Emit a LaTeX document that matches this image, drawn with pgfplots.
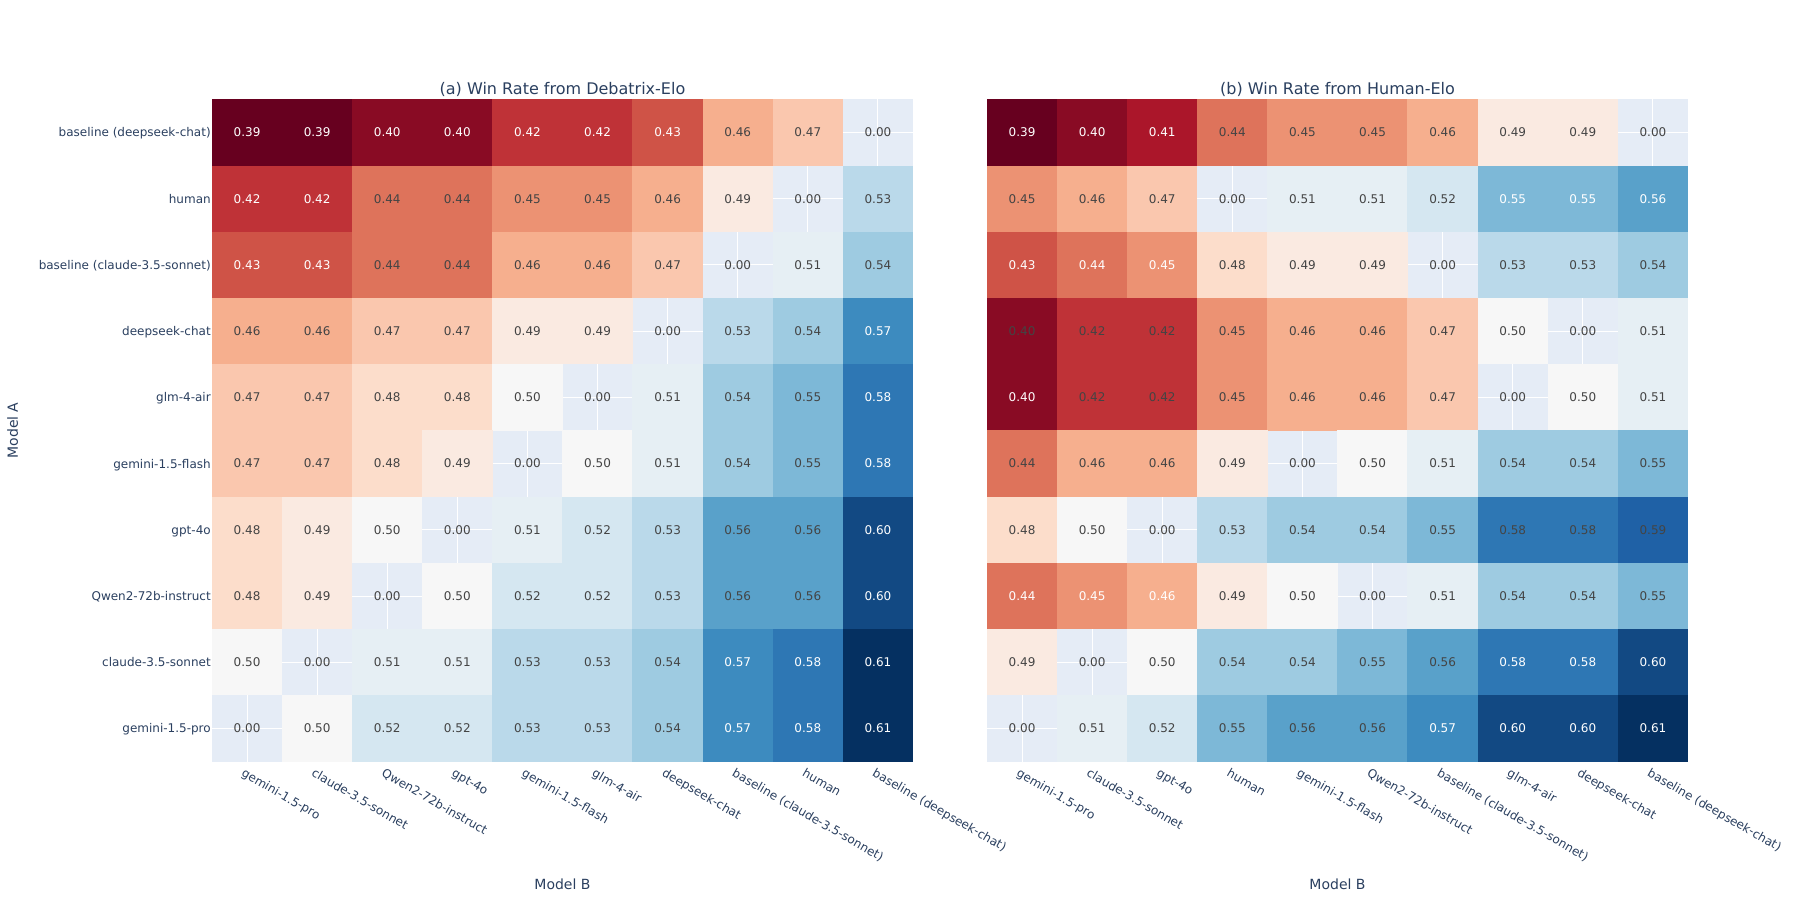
\documentclass[border=0pt]{standalone}
\usepackage{pgfplots}
\pgfplotsset{compat=1.18}
\usepackage{pgfplotstable}
\usepackage{fontspec}
\setmainfont{DejaVu Sans}

\definecolor{ink}{HTML}{2A3F5F}
\definecolor{plotbg}{HTML}{E5ECF6}
\definecolor{darktext}{HTML}{444444}

\newlength\px
\setlength\px{0.75pt}

% one heatmap cell, 70.1 x 66.2 px
\pgfdeclareplotmark{cell}{%
  \pgfpathrectanglecorners{\pgfqpoint{-26.4pt}{-24.9pt}}{\pgfqpoint{26.4pt}{24.9pt}}%
  \pgfusepathqfill}

\pgfplotsset{
  colormap={rdbu}{rgb255=(103,0,31) rgb255=(178,24,43) rgb255=(214,96,77)
    rgb255=(244,165,130) rgb255=(253,219,199) rgb255=(247,247,247)
    rgb255=(209,229,240) rgb255=(146,197,222) rgb255=(67,147,195)
    rgb255=(33,102,172) rgb255=(5,48,97)},
  heat/.style={
    anchor=south west, scale only axis,
    width=701\px, height=662\px,
    xmin=-0.5, xmax=9.5, ymin=-0.5, ymax=9.5, y dir=reverse,
    xtick={0,...,9}, ytick={0,...,9},
    major tick length=0pt,
    axis line style={draw=none},
    axis background/.style={fill=plotbg},
    grid=major, major grid style={white, line width=1\px},
    point meta min=0.39, point meta max=0.61,
    xticklabel style={inner sep=0pt, anchor=base west, xshift=-6.5\px, yshift=-14\px,
      rotate=-30, font=\fontsize{9pt}{11pt}\selectfont, text=ink},
    yticklabel style={inner sep=0pt, anchor=base east, xshift=-1\px, yshift=-4.4\px,
      font=\fontsize{9pt}{11pt}\selectfont, text=ink},
    every axis title/.style={at={(0.5,1)}, anchor=base, yshift=5\px,
      inner sep=0pt, font=\fontsize{12pt}{14pt}\selectfont, text=ink},
    every axis x label/.style={at={(axis description cs:0.5,0)}, anchor=base,
      yshift=-127.5\px, inner sep=0pt, font=\fontsize{10.5pt}{12pt}\selectfont, text=ink},
    every axis y label/.style={at={(axis description cs:0,0.5)}, anchor=base,
      xshift=-194\px, rotate=90, inner sep=0pt,
      font=\fontsize{10.5pt}{12pt}\selectfont, text=ink},
  },
  cells/.style={scatter, only marks, mark=cell, point meta=explicit,
    scatter/use mapped color={draw=none, fill=mapped color},
    restrict expr to domain={\thisrow{z}}{0.1:1}},
  % w = 1: white label, w = 0: dark label
  labels/.style 2 args={only marks, mark=*, mark size=0pt,
    mark options={draw=none, fill=none},
    point meta=explicit symbolic, nodes near coords,
    restrict expr to domain={\thisrow{w}}{#1},
    nodes near coords style={anchor=center, inner sep=0pt,
      font=\fontsize{9pt}{11pt}\selectfont, text=#2}},
}

% (a) Debatrix-Elo: x = Model B column, y = Model A row (0 = top)
\pgfplotstableread{
x y z w
0 0 0.39 1
1 0 0.39 1
2 0 0.40 1
3 0 0.40 1
4 0 0.42 1
5 0 0.42 1
6 0 0.43 1
7 0 0.46 0
8 0 0.47 0
9 0 0.00 0
0 1 0.42 1
1 1 0.42 1
2 1 0.44 0
3 1 0.44 0
4 1 0.45 0
5 1 0.45 0
6 1 0.46 0
7 1 0.49 0
8 1 0.00 0
9 1 0.53 0
0 2 0.43 1
1 2 0.43 1
2 2 0.44 0
3 2 0.44 0
4 2 0.46 0
5 2 0.46 0
6 2 0.47 0
7 2 0.00 0
8 2 0.51 0
9 2 0.54 0
0 3 0.46 0
1 3 0.46 0
2 3 0.47 0
3 3 0.47 0
4 3 0.49 0
5 3 0.49 0
6 3 0.00 0
7 3 0.53 0
8 3 0.54 0
9 3 0.57 1
0 4 0.47 0
1 4 0.47 0
2 4 0.48 0
3 4 0.48 0
4 4 0.50 0
5 4 0.00 0
6 4 0.51 0
7 4 0.54 0
8 4 0.55 0
9 4 0.58 1
0 5 0.47 0
1 5 0.47 0
2 5 0.48 0
3 5 0.49 0
4 5 0.00 0
5 5 0.50 0
6 5 0.51 0
7 5 0.54 0
8 5 0.55 0
9 5 0.58 1
0 6 0.48 0
1 6 0.49 0
2 6 0.50 0
3 6 0.00 0
4 6 0.51 0
5 6 0.52 0
6 6 0.53 0
7 6 0.56 0
8 6 0.56 0
9 6 0.60 1
0 7 0.48 0
1 7 0.49 0
2 7 0.00 0
3 7 0.50 0
4 7 0.52 0
5 7 0.52 0
6 7 0.53 0
7 7 0.56 0
8 7 0.56 0
9 7 0.60 1
0 8 0.50 0
1 8 0.00 0
2 8 0.51 0
3 8 0.51 0
4 8 0.53 0
5 8 0.53 0
6 8 0.54 0
7 8 0.57 1
8 8 0.58 1
9 8 0.61 1
0 9 0.00 0
1 9 0.50 0
2 9 0.52 0
3 9 0.52 0
4 9 0.53 0
5 9 0.53 0
6 9 0.54 0
7 9 0.57 1
8 9 0.58 1
9 9 0.61 1
}\debatrix

% (b) Human-Elo
\pgfplotstableread{
x y z w
0 0 0.39 1
1 0 0.40 1
2 0 0.41 1
3 0 0.44 0
4 0 0.45 0
5 0 0.45 0
6 0 0.46 0
7 0 0.49 0
8 0 0.49 0
9 0 0.00 0
0 1 0.45 0
1 1 0.46 0
2 1 0.47 0
3 1 0.00 0
4 1 0.51 0
5 1 0.51 0
6 1 0.52 0
7 1 0.55 1
8 1 0.55 1
9 1 0.56 1
0 2 0.43 1
1 2 0.44 1
2 2 0.45 1
3 2 0.48 0
4 2 0.49 0
5 2 0.49 0
6 2 0.00 0
7 2 0.53 0
8 2 0.53 0
9 2 0.54 0
0 3 0.40 0
1 3 0.42 0
2 3 0.42 0
3 3 0.45 0
4 3 0.46 0
5 3 0.46 0
6 3 0.47 0
7 3 0.50 0
8 3 0.00 0
9 3 0.51 0
0 4 0.40 1
1 4 0.42 0
2 4 0.42 0
3 4 0.45 0
4 4 0.46 0
5 4 0.46 0
6 4 0.47 0
7 4 0.00 0
8 4 0.50 0
9 4 0.51 0
0 5 0.44 0
1 5 0.46 0
2 5 0.46 0
3 5 0.49 0
4 5 0.00 0
5 5 0.50 0
6 5 0.51 0
7 5 0.54 0
8 5 0.54 0
9 5 0.55 0
0 6 0.48 0
1 6 0.50 0
2 6 0.00 0
3 6 0.53 0
4 6 0.54 0
5 6 0.54 0
6 6 0.55 0
7 6 0.58 0
8 6 0.58 0
9 6 0.59 0
0 7 0.44 1
1 7 0.45 1
2 7 0.46 1
3 7 0.49 0
4 7 0.50 0
5 7 0.00 0
6 7 0.51 0
7 7 0.54 0
8 7 0.54 0
9 7 0.55 0
0 8 0.49 0
1 8 0.00 0
2 8 0.50 0
3 8 0.54 0
4 8 0.54 0
5 8 0.55 0
6 8 0.56 0
7 8 0.58 1
8 8 0.58 1
9 8 0.60 1
0 9 0.00 0
1 9 0.51 0
2 9 0.52 0
3 9 0.55 0
4 9 0.56 0
5 9 0.56 0
6 9 0.57 1
7 9 0.60 1
8 9 0.60 1
9 9 0.61 1
}\human

\begin{document}
\begin{tikzpicture}
\useasboundingbox (0,0) rectangle (1800\px,900\px);

\begin{axis}[heat, at={(212\px,138.5\px)},
  title={(a) Win Rate from Debatrix-Elo},
  xlabel={Model B}, ylabel={Model A},
  xticklabels={gemini-1.5-pro, claude-3.5-sonnet, Qwen2-72b-instruct, gpt-4o,
    gemini-1.5-flash, glm-4-air, deepseek-chat, baseline (claude-3.5-sonnet),
    human, baseline (deepseek-chat)},
  yticklabels={baseline (deepseek-chat), human, baseline (claude-3.5-sonnet),
    deepseek-chat, glm-4-air, gemini-1.5-flash, gpt-4o, Qwen2-72b-instruct,
    claude-3.5-sonnet, gemini-1.5-pro},
]
\addplot[cells] table[x=x, y=y, meta=z] {\debatrix};
\addplot[labels={0.5:1.5}{white}] table[x=x, y=y, meta=z] {\debatrix};
\addplot[labels={-0.5:0.5}{darktext}] table[x=x, y=y, meta=z] {\debatrix};
\end{axis}

\begin{axis}[heat, at={(987\px,138.5\px)},
  title={(b) Win Rate from Human-Elo},
  xlabel={Model B},
  xticklabels={gemini-1.5-pro, claude-3.5-sonnet, gpt-4o, human,
    gemini-1.5-flash, Qwen2-72b-instruct, baseline (claude-3.5-sonnet),
    glm-4-air, deepseek-chat, baseline (deepseek-chat)},
  yticklabels=\empty,
]
\addplot[cells] table[x=x, y=y, meta=z] {\human};
\addplot[labels={0.5:1.5}{white}] table[x=x, y=y, meta=z] {\human};
\addplot[labels={-0.5:0.5}{darktext}] table[x=x, y=y, meta=z] {\human};
\end{axis}
\end{tikzpicture}
\end{document}
